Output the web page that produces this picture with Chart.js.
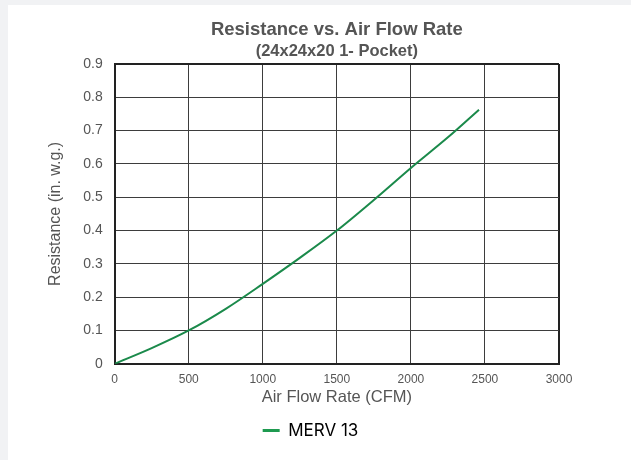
<!DOCTYPE html>
<html>
<head>
<meta charset="utf-8">
<script src="https://cdn.jsdelivr.net/npm/chart.js@4.4.1/dist/chart.umd.min.js"></script>
<style>
  html, body { margin: 0; padding: 0; background: #f1f2f4; }
  .panel { position: absolute; left: 8px; top: 5px; right: 0; bottom: 0; background: #fff; }
  .wrap { position: absolute; left: 0; top: 0; width: 631px; height: 460px; }
</style>
</head>
<body>
<div class="panel"></div>
<div class="wrap"><canvas id="chart-resistance"></canvas></div>
<script>
// Curva de resistencia
const airFlow    = [0, 250, 500, 750, 1000, 1250, 1500, 1750, 2000, 2250, 2460];
const resistance = [0, 0.047, 0.1, 0.165, 0.24, 0.318, 0.4, 0.492, 0.588, 0.68, 0.763];
const xTicks = [0, 500, 1000, 1500, 2000, 2500, 3000];
const yTicks = [0, 0.1, 0.2, 0.3, 0.4, 0.5, 0.6, 0.7, 0.8, 0.9];
const seriesName = "MERV 13";

const GREEN = "#1b8a4b";
const TEXT = "#555";
const ARIAL = "'Liberation Sans', Arial, sans-serif";

const points = airFlow.map((x, i) => ({ x, y: resistance[i] }));

// borde exterior mas grueso en el max de cada eje
const edgeWidth = (max) => c => (c.tick && c.tick.value === max ? 2 : 1);
const edgeColor = (max) => c => (c.tick && c.tick.value === max ? "#222" : "#3d3d3d");

// la leyenda del original no queda centrada en el canvas, se corre un poco a la derecha
const legendShift = {
  id: "legendShift",
  afterLayout(chart) {
    const lg = chart.legend;
    if (!lg) return;
    lg.left += 11; lg.right += 11;
    if (lg.legendHitBoxes) lg.legendHitBoxes.forEach(h => { h.left += 11; });
  }
};

new Chart(document.getElementById("chart-resistance"), {
  type: "line",
  data: {
    datasets: [{
      label: seriesName,
      data: points,
      borderColor: GREEN,
      borderWidth: 2,
      pointRadius: 0,
      cubicInterpolationMode: "monotone",
      fill: false
    }]
  },
  plugins: [legendShift],
  options: {
    responsive: true, maintainAspectRatio: false, animation: false,
    layout: { padding: { left: 40, right: 72, top: 19, bottom: 11 } },
    plugins: {
      title: {
        display: true, text: "Resistance vs. Air Flow Rate", fullSize: false,
        color: TEXT, font: { family: ARIAL, size: 18.5, weight: "bold" },
        padding: { top: 0, bottom: 0 }
      },
      subtitle: {
        display: true, text: "(24x24x20 1- Pocket)", fullSize: false,
        color: TEXT, font: { family: ARIAL, size: 16.5, weight: "bold" },
        padding: { top: 0, bottom: 3 }
      },
      legend: {
        position: "bottom",
        labels: {
          usePointStyle: true, pointStyleWidth: 17, boxHeight: 17, padding: 10,
          color: "#444", font: { family: "Inter, sans-serif", size: 17 },
          generateLabels: () => [{
            text: seriesName, pointStyle: "line", strokeStyle: "#1e9a50",
            fillStyle: "#1e9a50", lineWidth: 3, datasetIndex: 0
          }]
        }
      },
      tooltip: { enabled: false }
    },
    scales: {
      x: {
        type: "linear", min: 0, max: 3000,
        afterBuildTicks: s => { s.ticks = xTicks.map(v => ({ value: v })); },
        ticks: { color: TEXT, font: { family: ARIAL, size: 12 }, padding: 9, maxRotation: 0, callback: v => String(v) },
        grid: { drawTicks: false, color: edgeColor(3000), lineWidth: edgeWidth(3000) },
        border: { color: "#222", width: 2 },
        title: {
          // el titulo va pegado a las etiquetas, por eso el padding negativo
          display: true, text: "Air Flow Rate (CFM)", color: TEXT,
          font: { family: ARIAL, size: 16.5 }, padding: { top: -9, bottom: 5 }
        }
      },
      y: {
        min: 0, max: 0.9,
        afterBuildTicks: s => { s.ticks = yTicks.map(v => ({ value: v })); },
        ticks: { color: TEXT, font: { family: ARIAL, size: 14 }, padding: 12, callback: v => String(Math.round(v * 10) / 10) },
        grid: { drawTicks: false, color: edgeColor(0.9), lineWidth: edgeWidth(0.9) },
        border: { color: "#222", width: 2 },
        title: {
          display: true, text: "Resistance (in. w.g.)", color: TEXT,
          font: { family: ARIAL, size: 16 }, padding: { top: 6, bottom: 6 }
        }
      }
    }
  }
});
</script>
</body>
</html>
